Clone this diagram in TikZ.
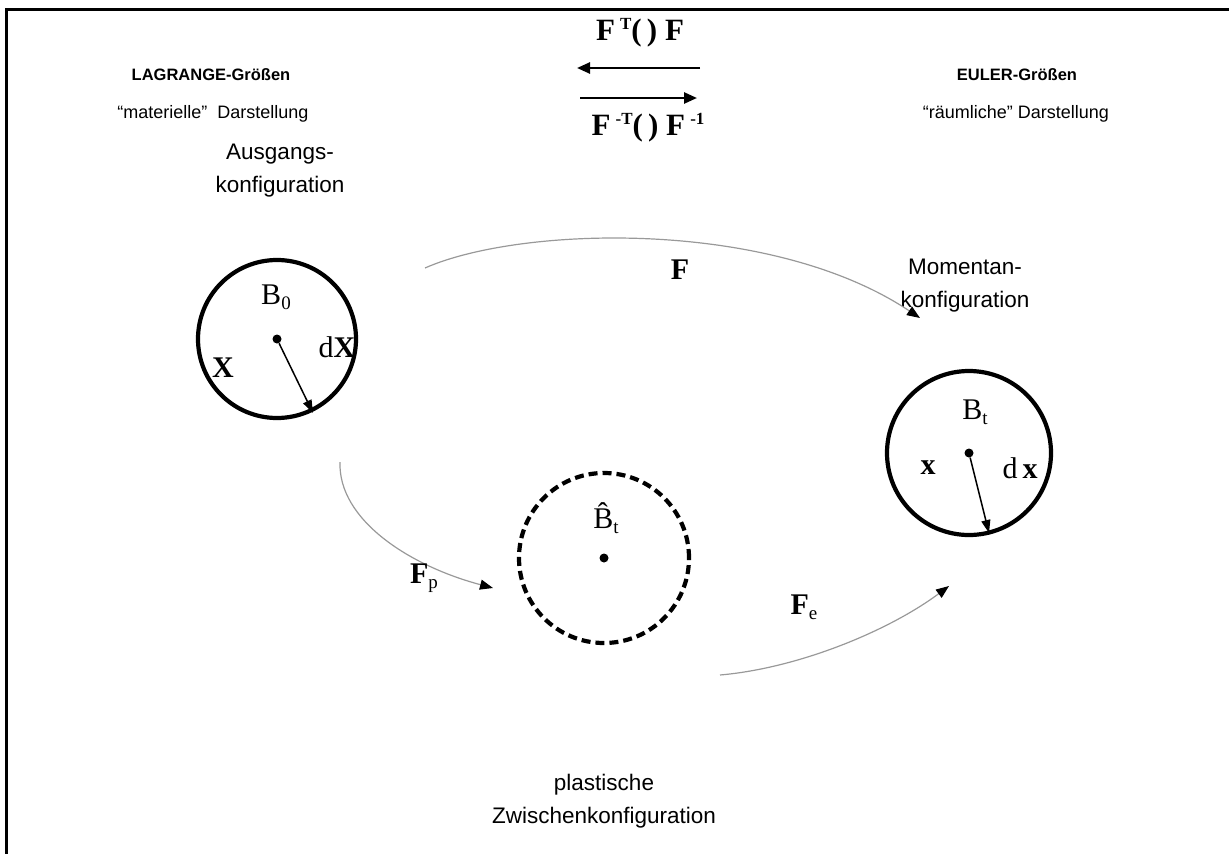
\documentclass[tikz,border=0pt]{standalone}
\usepackage{fontspec}
\setmainfont{Liberation Serif}
\setsansfont{Liberation Sans}
\usetikzlibrary{arrows.meta}
\newcommand{\lowidx}[1]{\raisebox{-0.35ex}{\fontsize{19}{19}\selectfont\mdseries #1}}
\newcommand{\highidx}[1]{\raisebox{0.75ex}{\fontsize{17}{17}\selectfont #1}}
\begin{document}
\begin{tikzpicture}[x=1pt,y=-1pt,
  head/.style={font=\sffamily\bfseries\fontsize{16.5}{19}\selectfont, inner sep=0},
  sub/.style={font=\sffamily\fontsize{18}{21}\selectfont, inner sep=0},
  conf/.style={align=center, font=\sffamily\fontsize{22.5}{33}\selectfont, inner sep=0},
  formula/.style={font=\bfseries\fontsize{31}{34}\selectfont, inner sep=0},
  sym/.style={font=\fontsize{30}{34}\selectfont, inner sep=0},
  body/.style={circle, draw, line width=4.2pt, inner sep=0},
  pt/.style={circle, fill, inner sep=0, minimum size=9pt},
  mapping/.style={draw=black!40, line width=1.2pt, -{Triangle[length=13pt,width=10pt,color=black]}},
  relarrow/.style={line width=2.5pt, -{Triangle[length=13pt,width=11pt]}},
  vec/.style={line width=1.5pt, -{Triangle[length=13pt,width=9pt]}}
]
\useasboundingbox (0,0) rectangle (1229,854);
\draw[line width=3pt] (6,860) -- (6,9) -- (1235,9);

% headers
\node[head] (lagr) at (211,75) {LAGRANGE-Größen};
\node[sub] (mat) at (213,114) {“materielle”\ \ Darstellung};
\node[head] (eul) at (1017,75) {EULER-Größen};
\node[sub] (raum) at (1016,114) {“räumliche” Darstellung};

% transport operators
\node[formula] (ft) at (640,33) {F\,\highidx{T}(\,) F};
\coordinate (l1) at (700,68);
\coordinate (l2) at (577,68);
\coordinate (r1) at (580,98);
\coordinate (r2) at (697,98);
\draw[relarrow] (l1) -- (l2);
\draw[relarrow] (r1) -- (r2);
\node[formula] (fit) at (648,128) {F\,\highidx{-T}(\,) F\,\highidx{-1}};

% reference configuration
\node[conf] (ausg) at (280,171) {Ausgangs-\\konfiguration};
\node[body, minimum size=158pt] (B0) at (277,339) {};
\node[pt] (p0) at (B0.center) {};
\coordinate (e0) at (313,413);
\draw[vec] (p0) -- (e0);
\node[sym] (lB0) at (276,297) {B\lowidx{0}};
\node[sym] (lX) at (223,368) {\textbf{X}};
\node[sym] (ldX) at (337,347) {d\textbf{X}};

% current configuration
\node[conf] (mom) at (965,286) {Momentan-\\konfiguration};
\node[body, minimum size=164pt] (Bt) at (969,453) {};
\node[pt] (pt) at (Bt.center) {};
\coordinate (et) at (989,533);
\draw[vec] (pt) -- (et);
\node[sym] (lBt) at (975,412) {B\lowidx{t}};
\node[sym] (lx) at (928,468) {\textbf{x}};
\node[sym] (ldx) at (1020,468) {d\,\textbf{x}};

% intermediate configuration
\node[body, dash pattern=on 9pt off 5pt, minimum size=170pt] (Bh) at (604,558) {};
\node[pt] (ph) at (Bh.center) {};
\node[sym] (lBh) at (606,518) {\^{B}\lowidx{t}};
\node[conf] (zw) at (604,801) {plastische\\Zwischenkonfiguration};

% mappings
\coordinate (fs) at (425,268);
\coordinate (fe) at (920,318);
\draw[mapping] (fs) .. controls (520,226) and (770,218) .. (fe);
\node[sym] (lF) at (680,270) {\textbf{F}};

\coordinate (ps) at (340,462);
\coordinate (pe) at (493,588);
\draw[mapping] (ps) .. controls (338,520) and (410,566) .. (pe);
\node[sym] (lFp) at (424,578) {\textbf{F}\lowidx{p}};

\coordinate (es) at (720,675);
\coordinate (ee) at (949,586);
\draw[mapping] (es) .. controls (800,668) and (890,630) .. (ee);
\node[sym] (lFe) at (804,607) {\textbf{F}\lowidx{e}};
\end{tikzpicture}
\end{document}
